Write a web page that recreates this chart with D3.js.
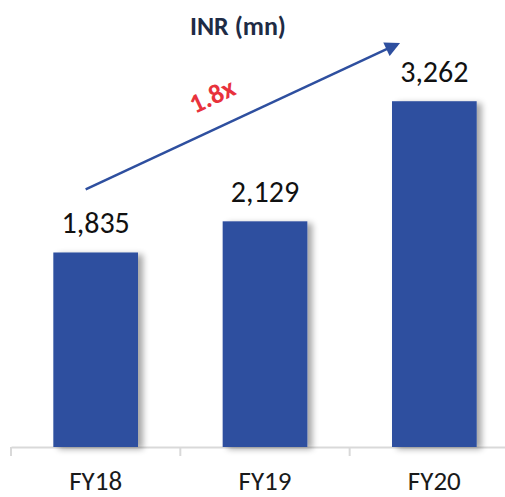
<!DOCTYPE html>
<html>
<head>
<meta charset="utf-8">
<script src="https://cdn.jsdelivr.net/npm/d3@7"></script>
<style>
  body { margin: 0; background: #fff; }
  text { font-family: Carlito, Calibri, Lato, "Open Sans", sans-serif; }
</style>
</head>
<body>
<svg width="505" height="497"></svg>
<script>
const categories = ["FY18", "FY19", "FY20"];
const values = [1835, 2129, 3262];
const title = "INR (mn)";
const growthLabel = "1.8x";

const svg = d3.select("svg");
const margin = {top: 23, right: -14, bottom: 50, left: 11};
const width = +svg.attr("width") - margin.left - margin.right;
const height = +svg.attr("height") - margin.top - margin.bottom;
const g = svg.append("g").attr("transform", `translate(${margin.left},${margin.top})`);

// soft shadow to the right of bars
const defs = svg.append("defs");
const f = defs.append("filter").attr("id", "shadow")
    .attr("x", "-10%").attr("y", "-10%").attr("width", "130%").attr("height", "120%");
f.append("feGaussianBlur").attr("in", "SourceAlpha").attr("stdDeviation", 3);
f.append("feOffset").attr("dx", 5).attr("dy", 2).attr("result", "off");
f.append("feComponentTransfer").append("feFuncA").attr("type", "linear").attr("slope", 0.35);
const merge = f.append("feMerge");
merge.append("feMergeNode");
merge.append("feMergeNode").attr("in", "SourceGraphic");

defs.append("marker").attr("id", "head")
    .attr("viewBox", "0 0 10 10").attr("refX", 8).attr("refY", 5)
    .attr("markerWidth", 6.5).attr("markerHeight", 6)
    .attr("orient", "auto").attr("markerUnits", "strokeWidth")
  .append("path").attr("d", "M0,0 L10,5 L0,10 z").attr("fill", "#2e4f9f");

const x = d3.scaleBand().domain(categories).range([0, width]).paddingInner(0).paddingOuter(0);
const y = d3.scaleLinear().domain([0, 4000]).range([height, 0]);
const barW = x.bandwidth() * 0.5;

// axis
const axis = g.append("g")
    .attr("transform", `translate(0,${height})`)
    .call(d3.axisBottom(x).tickSize(0).tickPadding(24));
axis.select(".domain").attr("stroke", "#d9d9d9").attr("stroke-width", 2);
axis.selectAll(".tick text")
    .attr("font-size", 27).attr("fill", "#1a1a1a");

g.selectAll(".tickline")
    .data(categories)
    .enter().append("line")
    .attr("x1", d => x(d)).attr("x2", d => x(d))
    .attr("y1", height).attr("y2", height + 9)
    .attr("stroke", "#d9d9d9").attr("stroke-width", 2);

g.selectAll(".bar")
    .data(values)
    .enter().append("rect")
    .attr("class", "bar")
    .attr("x", (d, i) => x(categories[i]) + (x.bandwidth() - barW) / 2)
    .attr("y", d => y(d))
    .attr("width", barW)
    .attr("height", d => height - y(d))
    .attr("fill", "#2e4f9f")
    .attr("filter", "url(#shadow)");

g.selectAll(".val")
    .data(values)
    .enter().append("text")
    .attr("x", (d, i) => x(categories[i]) + x.bandwidth() / 2)
    .attr("y", d => y(d) - 19)
    .attr("text-anchor", "middle")
    .attr("font-size", 30)
    .attr("fill", "#111")
    .text(d => d3.format(",")(d));

// title
svg.append("text")
    .attr("x", 238).attr("y", 35)
    .attr("text-anchor", "middle")
    .attr("font-size", 26).attr("font-weight", "bold")
    .attr("fill", "#1e2b45")
    .text(title);

// growth arrow
const x0 = x(categories[0]) + x.bandwidth() / 2 - 10 + margin.left;
const y0 = y(values[0]) - 63 + margin.top;
const x1 = x(categories[2]) + x.bandwidth() / 2 - 37 + margin.left;
const y1 = y(values[2]) - 57 + margin.top;
svg.append("line")
    .attr("x1", x0).attr("y1", y0).attr("x2", x1).attr("y2", y1)
    .attr("stroke", "#2e4f9f").attr("stroke-width", 2.5)
    .attr("marker-end", "url(#head)");

const ang = Math.atan2(y1 - y0, x1 - x0) * 180 / Math.PI;
svg.append("text")
    .attr("transform", `translate(216,104) rotate(${ang})`)
    .attr("text-anchor", "middle")
    .attr("font-size", 27).attr("font-weight", "bold")
    .attr("fill", "#e8323c")
    .text(growthLabel);
</script>
</body>
</html>
